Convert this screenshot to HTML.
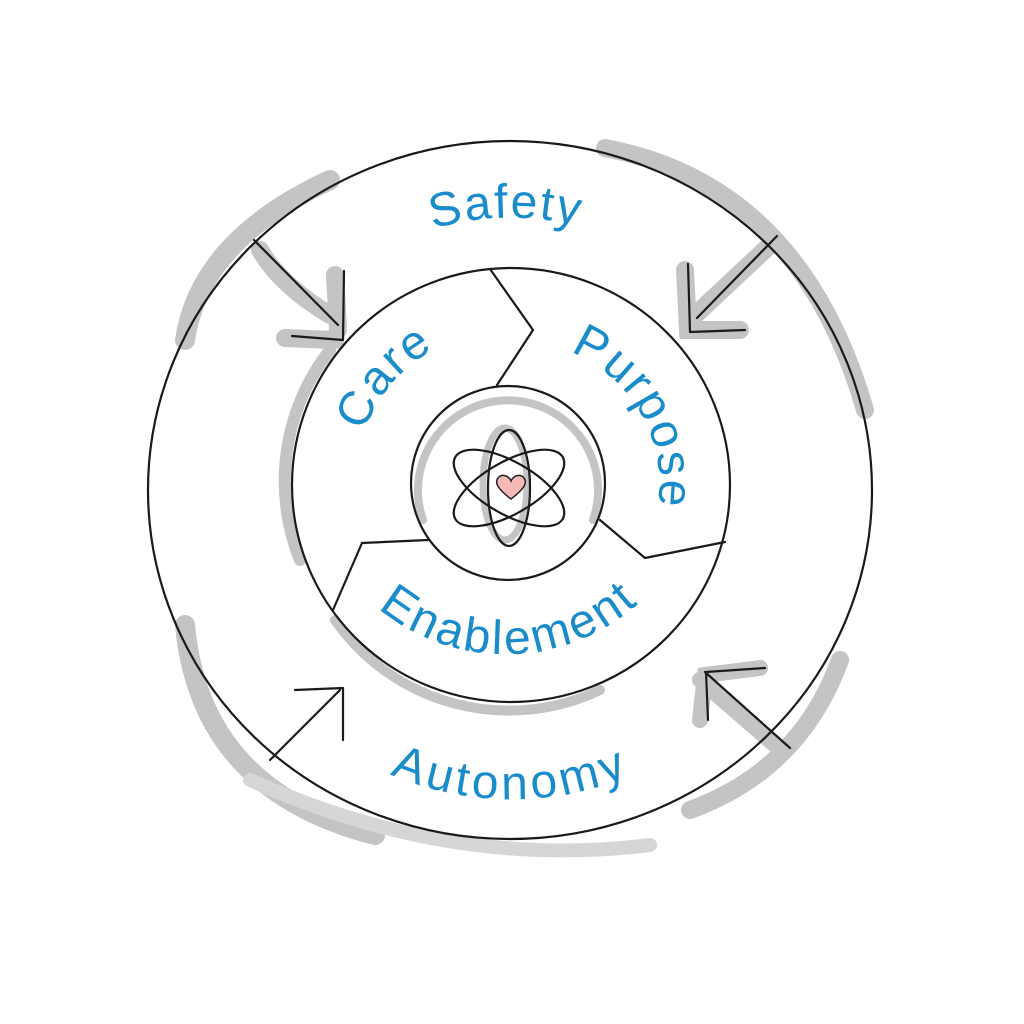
<!DOCTYPE html>
<html><head><style>
html,body{margin:0;padding:0;background:#fff;}
svg{display:block;}
text{font-family:"Liberation Sans",sans-serif;fill:#1a8ccc;font-size:48px;letter-spacing:2px;}
</style></head><body>
<svg width="1024" height="1024" viewBox="0 0 1024 1024">
<defs>
 <path id="pCare" d="M364,432 A152,152 0 0 1 584,351"/>
 <path id="pPurp" d="M570,352 A142,142 0 0 1 648,540"/>
 <path id="pEnab" d="M378,608 A199,199 0 0 0 650,592"/>
 <path id="pSafe" d="M433,229 A272,272 0 0 1 660,262"/>
 <path id="pAuto" d="M390,774 A305,305 0 0 0 650,766"/>
</defs>
<g fill="none" stroke="#c4c4c4" stroke-linecap="round">
 <path d="M185,340 Q200,240 330,180" stroke-width="20"/>
 <path d="M260,250 Q280,285 330,315" stroke-width="18"/>
 <path d="M285,338 L335,340 M335,275 L338,330" stroke-width="18"/>
 <path d="M605,148 Q800,185 865,410" stroke-width="18"/>
 <path d="M770,245 L690,320 M685,270 L688,330 L740,330" stroke-width="18"/>
 <path d="M185,625 Q200,790 375,835" stroke-width="20"/>
 <path d="M250,780 Q450,870 650,845" stroke-width="14" stroke="#d6d6d6"/>
 <path d="M690,810 Q800,770 840,660" stroke-width="18"/>
 <path d="M700,680 L775,745 M700,720 L705,675 L760,668" stroke-width="16"/>
 <path d="M300,560 A212,212 0 0 1 330,350" stroke-width="12"/>
 <path d="M335,620 A212,212 0 0 0 600,690" stroke-width="10"/>
 <path d="M423,520 A90,90 0 1 1 593,520" stroke-width="8"/>
 <ellipse cx="505" cy="484" rx="22" ry="56" stroke-width="7"/>
</g>
<g fill="none" stroke="#1a1a1a" stroke-width="2.2" stroke-linecap="round" stroke-linejoin="round">
 <ellipse cx="510" cy="490" rx="362" ry="349"/>
 <ellipse cx="511" cy="485" rx="219" ry="217"/>
 <circle cx="508" cy="483" r="97"/>
 <path d="M490,269 L533,330 L497,385"/>
 <path d="M600,520 L645,558 L725,542"/>
 <path d="M428,540 L362,543 L333,610"/>
 <path d="M254,240 L338,325 M344,271 L343,340 L292,336"/>
 <path d="M777,236 L697,318 M688,264 L690,332 L745,330"/>
 <path d="M270,760 L340,690 M295,690 L343,688 L343,740"/>
 <path d="M790,748 L705,672 M708,720 L706,672 L765,668"/>
 <ellipse cx="509" cy="488" rx="21" ry="58"/>
 <ellipse cx="509" cy="488" rx="62" ry="26" transform="rotate(-30 509 488)"/>
 <ellipse cx="509" cy="488" rx="62" ry="26" transform="rotate(30 509 488)"/>
</g>
<path d="M511,499 C499,490 494,483 498,478 C502,473 509,476 511,481 C513,476 520,473 524,478 C528,483 523,490 511,499 Z" fill="#f7b8b8" stroke="#222" stroke-width="1.5"/>
<text><textPath href="#pSafe">Safety</textPath></text>
<text style="letter-spacing:4px"><textPath href="#pAuto">Autonomy</textPath></text>
<text><textPath href="#pCare">Care</textPath></text>
<text><textPath href="#pPurp">Purpose</textPath></text>
<text style="letter-spacing:3px"><textPath href="#pEnab">Enablement</textPath></text>
</svg>
</body></html>
